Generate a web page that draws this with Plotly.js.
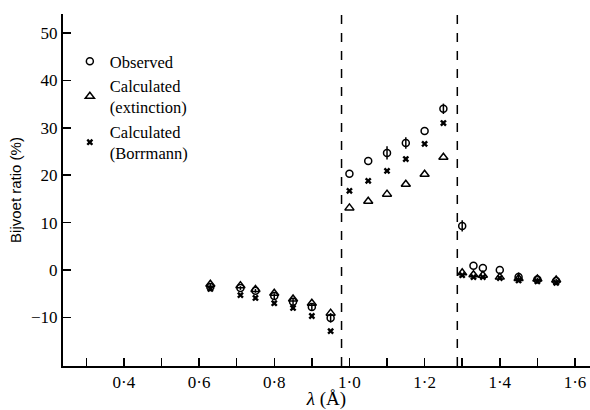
<!DOCTYPE html>
<html><head><meta charset="utf-8">
<script src="https://cdn.plot.ly/plotly-3.0.1.min.js"></script>
<style>html,body{margin:0;padding:0;background:#fff}#chart{width:590px;height:410px}</style>
</head><body><div id="chart"></div>
<script>
const wavelength = [0.63,0.71,0.75,0.80,0.85,0.90,0.95,1.00,1.05,1.10,1.15,1.20,1.25,1.30,1.33,1.355,1.40,1.45,1.50,1.55];
const observed   = [-3.6,-3.8,-4.4,-5.5,-6.7,-7.8,-10.1,20.3,23.0,24.7,26.8,29.3,34.0,9.3,0.9,0.4,0.0,-1.5,-2.0,-2.3];
const observedErr= [0.8,0.4,0.4,0.6,0.8,0.8,1.0,0,0,1.4,1.2,0,1.1,1.2,0,0,0,1.0,0.4,0.4];
const extinction = [-3.0,-3.3,-4.1,-4.9,-6.1,-7.0,-9.1,13.1,14.5,16.0,18.1,20.2,23.8,-0.6,-1.0,-1.1,-1.5,-1.8,-1.9,-2.1];
const borrmann   = [-4.0,-5.3,-5.9,-7.0,-8.0,-9.7,-12.9,16.7,18.8,20.9,23.4,26.6,31.0,-1.1,-1.5,-1.5,-1.7,-2.2,-2.4,-2.7];
const absorptionEdges = [0.979, 1.287];
const xTickVals = [0.3,0.4,0.5,0.6,0.7,0.8,0.9,1.0,1.1,1.2,1.3,1.4,1.5,1.6];
const xTickText = ['','0·4','','0·6','','0·8','','1·0','','1·2','','1·4','','1·6'];
const yTickVals = [-10,0,10,20,30,40,50];

const serif = 'Liberation Serif, Times New Roman, serif';
const traces = [
  {x: wavelength, y: observed, name: 'Observed', type: 'scatter', mode: 'markers',
   marker: {symbol: 'circle-open', size: 7, color: '#000', line: {width: 1.5, color: '#000'}},
   error_y: {type: 'data', array: observedErr, visible: true, color: '#000', thickness: 1.5, width: 0}},
  {x: wavelength, y: extinction, name: 'Calculated<br>(extinction)', type: 'scatter', mode: 'markers',
   marker: {symbol: 'triangle-up-open', size: 8, color: '#000', line: {width: 1.5, color: '#000'}}},
  {x: wavelength, y: borrmann, name: 'Calculated<br>(Borrmann)', type: 'scatter', mode: 'markers',
   marker: {symbol: 'x', size: 6, color: '#000', line: {width: 0}}}
];

const layout = {
  width: 590, height: 410,
  margin: {l: 63, r: 0, t: 14, b: 44},
  paper_bgcolor: '#fff', plot_bgcolor: '#fff',
  showlegend: true,
  legend: {x: 0.013, y: 0.915, xanchor: 'left', yanchor: 'top', font: {family: serif, size: 16.5, color: '#000'},
           bgcolor: 'rgba(0,0,0,0)', itemwidth: 30},
  xaxis: {range: [0.238, 1.64], tickvals: xTickVals, ticktext: xTickText, ticks: 'inside', ticklen: 8,
          tickwidth: 1.5, tickcolor: '#000', showline: true, linecolor: '#000', linewidth: 2,
          showgrid: false, zeroline: false, tickfont: {family: serif, size: 17, color: '#000'},
          title: {text: '<i>λ</i> (Å)\u00a0\u00a0\u00a0\u00a0\u00a0', font: {family: serif, size: 19, color: '#000'}, standoff: 4}},
  yaxis: {range: [-20.25, 54], tickvals: yTickVals, ticks: 'inside', ticklen: 8, tickwidth: 1.5,
          tickcolor: '#000', showline: true, linecolor: '#000', linewidth: 2, showgrid: false,
          zeroline: false, tickfont: {family: serif, size: 17, color: '#000'},
          title: {text: 'Bijvoet ratio (%)', font: {family: 'Liberation Sans, Arial, sans-serif', size: 15, color: '#000'}, standoff: 6}},
  shapes: absorptionEdges.map(e => ({type: 'line', xref: 'x', yref: 'paper', x0: e, x1: e, y0: 0, y1: 1.005,
          line: {color: '#000', width: 1.5, dash: 'dash'}}))
};
Plotly.newPlot('chart', traces, layout, {displayModeBar: false, staticPlot: true});
</script></body></html>
